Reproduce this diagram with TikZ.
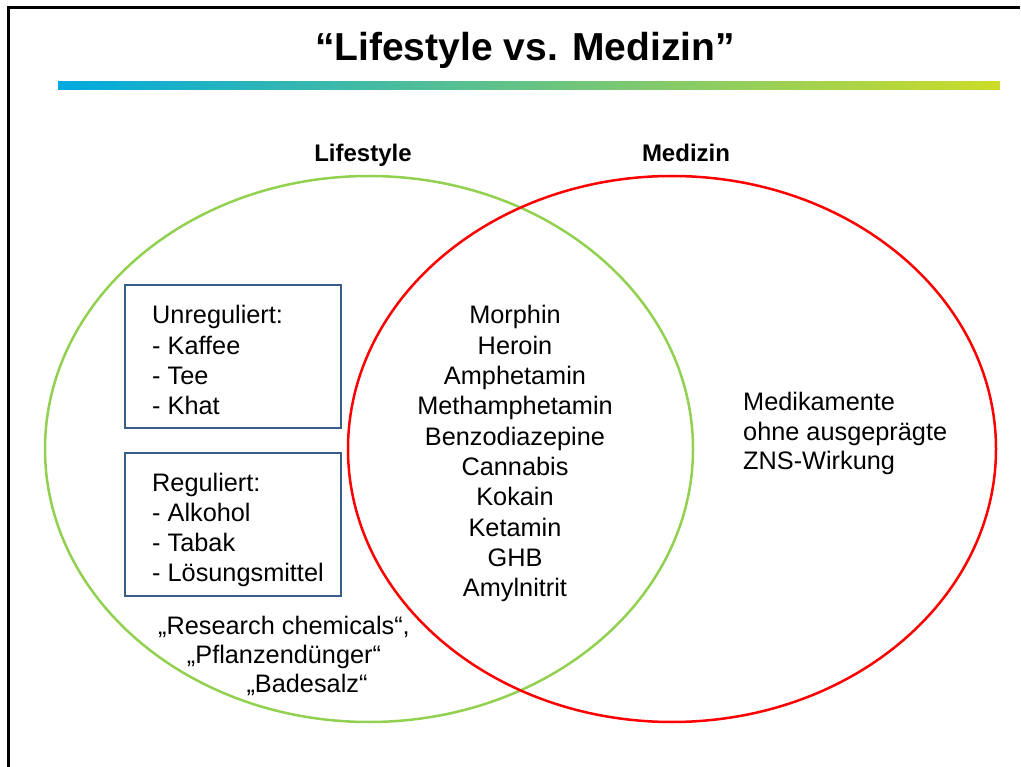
\documentclass[tikz,border=0pt]{standalone}
\usepackage{fontspec}
\setmainfont{Liberation Sans}
\usetikzlibrary{shapes.geometric}
\definecolor{lsgreen}{RGB}{146,208,80}
\definecolor{mdred}{RGB}{255,0,0}
\definecolor{boxblue}{RGB}{56,93,138}
\definecolor{barleft}{RGB}{0,170,224}
\definecolor{barright}{RGB}{204,220,40}
\newcommand{\bodyfont}{\fontsize{25.3}{30.3}\selectfont}
\begin{document}
\begin{tikzpicture}[x=1pt,y=-1pt,
  set/.style={draw,ellipse,line width=2.5pt,minimum width=648pt,minimum height=546pt,inner sep=0pt},
  listbox/.style={draw=boxblue,line width=2pt,minimum width=216pt,minimum height=143pt,inner sep=0pt},
  txt/.style={inner sep=0pt,font=\bodyfont},
  head/.style={inner sep=0pt,font=\fontsize{24}{28}\selectfont\bfseries}]
\useasboundingbox (0,0) rectangle (1021,767);
% frame
\draw[line width=3pt] (8.5,767) -- (8.5,7.5) -- (1020,7.5);
% title
\node[inner sep=0pt,anchor=base,font=\fontsize{39}{42}\selectfont\bfseries] (title) at (525,61) {“Lifestyle vs. Medizin”};
% gradient bar
\shade[left color=barleft,right color=barright] (58,82) rectangle (1000,89.5);
% sets
\node[set,draw=lsgreen] (life) at (369,449) {};
\node[set,draw=mdred] (med) at (672,449) {};
\node[head,anchor=base] (lifelbl) at (363,162) {Lifestyle};
\node[head,anchor=base] (medlbl) at (686,162) {Medizin};
% boxes
\node[listbox] (box1) at (233,356.5) {};
\node[listbox] (box2) at (233,524.5) {};
\node[txt,anchor=base west] (unreg) at (152,324) {\begin{tabular}[t]{@{}l@{}}Unreguliert:\\- Kaffee\\- Tee\\- Khat\end{tabular}};
\node[txt,anchor=base west] (reg) at (152,491) {\begin{tabular}[t]{@{}l@{}}Reguliert:\\- Alkohol\\- Tabak\\- Lösungsmittel\end{tabular}};
% research chemicals
\node[txt,anchor=base] (rc) at (284,634) {\fontsize{25.3}{29}\selectfont\begin{tabular}[t]{@{}c@{}}„Research chemicals“,\\„Pflanzendünger“\\\hspace*{46pt}„Badesalz“\end{tabular}};
% intersection
\node[txt,anchor=base] (both) at (515,324) {\begin{tabular}[t]{@{}c@{}}Morphin\\Heroin\\Amphetamin\\Methamphetamin\\Benzodiazepine\\Cannabis\\Kokain\\Ketamin\\GHB\\Amylnitrit\end{tabular}};
% medicine only
\node[txt,anchor=base west] (medonly) at (743,411) {\fontsize{25.3}{29.5}\selectfont\begin{tabular}[t]{@{}l@{}}Medikamente\\ohne ausgeprägte\\ZNS-Wirkung\end{tabular}};
\end{tikzpicture}
\end{document}
